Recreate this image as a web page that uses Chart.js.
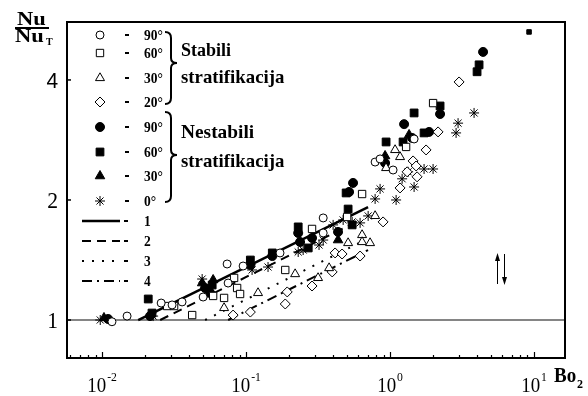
<!DOCTYPE html>
<html>
<head>
<meta charset="utf-8">
<script src="https://cdn.jsdelivr.net/npm/chart.js@4.4.1/dist/chart.umd.min.js"></script>
<style>
  body { margin: 0; background: #fff; }
  #wrap { width: 588px; height: 396px; }
</style>
</head>
<body>
<div id="wrap"><canvas id="chart"></canvas></div>
<script>
// Bo2 vs Nu/NuT ([Bo2, Nu/NuT])
// stable stratification (open markers)
const st90 = [[0.0117,0.99],[0.0149,1.023],[0.0257,1.103],[0.0306,1.091],[0.0359,1.11],[0.0503,1.142],[0.0738,1.382],[0.075,1.238],[0.0953,1.366],[0.172,1.473],[0.343,1.803],[0.343,1.653],[0.787,2.49],[0.852,2.535],[1.049,2.378],[1.468,2.845]];
const st60 = [[0.0283,1.084],[0.0316,1.084],[0.0422,1.029],[0.059,1.149],[0.0703,1.136],[0.0825,1.275],[0.0866,1.203],[0.0908,1.162],[0.187,1.335],[0.287,1.692],[0.503,1.813],[0.639,2.07],[1.292,2.717],[1.989,3.5]];
const st30 = [[0.0703,1.072],[0.121,1.169],[0.219,1.304],[0.316,1.275],[0.377,1.35],[0.511,1.56],[0.639,1.634],[0.639,1.569],[0.726,1.56],[0.787,1.824],[0.938,2.406],[1.083,2.67],[1.173,2.564]];
const st20 = [[0.0812,1.029],[0.107,1.047],[0.187,1.097],[0.193,1.176],[0.287,1.217],[0.396,1.32],[0.415,1.473],[0.464,1.464],[0.619,1.447],[0.894,1.762],[1.173,2.144],[1.313,2.353],[1.444,2.506],[1.516,2.434],[1.54,2.286],[1.778,2.67],[2.154,2.963],[3.014,3.954]];
// unstable stratification (filled markers)
const un90 = [[0.011,1.006],[0.0215,1.023],[0.0519,1.203],[0.0562,1.169],[0.107,1.374],[0.152,1.447],[0.23,1.653],[0.237,1.569],[0.287,1.606],[0.435,1.663],[0.519,2.095],[0.553,2.207],[0.923,2.476],[1.251,3.099],[1.422,2.862],[1.866,2.963],[2.224,3.286],[4.424,4.703]];
const un60 = [[0.0209,1.129],[0.0222,1.041],[0.0581,1.224],[0.107,1.414],[0.152,1.473],[0.23,1.712],[0.27,1.516],[0.495,2.083],[0.511,1.898],[0.545,1.732],[0.938,2.796],[1.231,2.796],[1.468,3.306],[1.722,2.946],[2.224,3.442],[4.019,4.194],[4.15,4.365],[9.23,5.278]];
const un30 = [[0.0103,1.012],[0.0495,1.238],[0.059,1.26],[0.0562,1.189],[0.107,1.398],[0.435,1.587],[0.923,2.579],[1.355,2.912]];
const un0 = [[0.0097,1.0],[0.0226,1.023],[0.0495,1.267],[0.11,1.335],[0.142,1.358],[0.23,1.481],[0.249,1.498],[0.321,1.542],[0.343,1.587],[0.402,1.732],[0.472,1.782],[0.545,1.762],[0.619,1.752],[0.704,1.824],[0.787,2.012],[0.852,2.132],[1.101,2.0],[1.212,2.26],[1.334,2.353],[1.468,2.156],[1.722,2.392],[1.989,2.392],[2.873,2.946],[2.966,3.117],[3.831,3.306]];
// correlation lines 1-4 (end points)
const fit1 = [[0.0178,1],[0.703,1.92]];
const fit2 = [[0.0253,1],[0.571,1.756]];
const fit3 = [[0.0519,1],[0.670,1.587]];
const fit4 = [[0.075,1],[0.703,1.498]];

const xExps = [-2, -1, 0, 1];
const yTicks = [1, 2, 4];
const stableLabels = ['90°', '60°', '30°', '20°'];
const unstableLabels = ['90°', '60°', '30°', '0°'];
const fitLabels = ['1', '2', '3', '4'];

const SERIF = '"Liberation Serif", "DejaVu Serif", serif';
const SANS = '"Liberation Sans", Arial, sans-serif';

const pts = a => a.map(p => ({x: p[0], y: p[1]}));

// marker looks, same order as the legend rows
const markers = [
  {data: st90, style: 'circle', r: 4, fill: '#fff'},
  {data: st60, style: 'rect', r: 5.2, fill: '#fff'},
  {data: st30, style: 'triangle', r: 5.2, fill: '#fff'},
  {data: st20, style: 'rectRot', r: 5, fill: '#fff'},
  {data: un90, style: 'circle', r: 4.5, fill: '#000'},
  {data: un60, style: 'rect', r: 5.5, fill: '#000'},
  {data: un30, style: 'triangle', r: 5.5, fill: '#000'},
  {data: un0, style: 'star', r: 5, fill: '#000'}
];
const fits = [
  {data: fit1, dash: [], w: 2.5},
  {data: fit2, dash: [9, 6], w: 2},
  {data: fit3, dash: [2, 8], w: 2},
  {data: fit4, dash: [10, 5, 2, 5], w: 2}
];

const datasets = [];
markers.forEach((m, i) => {
  datasets.push({
    type: 'scatter',
    data: pts(m.data),
    pointStyle: m.style,
    pointRadius: (i === 5) ? (c => c.dataIndex === un60.length - 1 ? 3.2 : m.r) : m.r,
    pointBackgroundColor: m.fill,
    pointBorderColor: '#000',
    pointBorderWidth: 1,
    order: 0
  });
});
fits.forEach(f => {
  datasets.push({
    type: 'line',
    data: pts(f.data),
    borderColor: '#000',
    borderWidth: f.w,
    borderDash: f.dash,
    pointRadius: 0,
    fill: false,
    order: 5
  });
});

function txt(ctx, s, x, y, font, align, sx) {
  ctx.save();
  ctx.font = font;
  ctx.textAlign = align || 'left';
  ctx.textBaseline = 'alphabetic';
  ctx.translate(x, y);
  ctx.scale(sx || 1, 1);
  ctx.fillText(s, 0, 0);
  ctx.restore();
}

function marker(ctx, m, x, y) {
  ctx.save();
  ctx.fillStyle = m.fill;
  ctx.strokeStyle = '#000';
  ctx.lineWidth = 1;
  Chart.helpers.drawPoint(ctx, {pointStyle: m.style, radius: m.r, rotation: 0, borderWidth: 1}, x, y);
  ctx.restore();
}

function brace(ctx, x, y0, y1, tip) {
  ctx.beginPath();
  ctx.moveTo(x - 6, y0);
  ctx.quadraticCurveTo(x, y0, x, y0 + 6);
  ctx.lineTo(x, tip - 5);
  ctx.quadraticCurveTo(x, tip, x + 6, tip);
  ctx.quadraticCurveTo(x, tip, x, tip + 5);
  ctx.lineTo(x, y1 - 6);
  ctx.quadraticCurveTo(x, y1, x - 6, y1);
  ctx.stroke();
}

const deco = {
  id: 'deco',
  beforeDatasetsDraw(chart) {
    const {ctx, chartArea: a, scales: {y}} = chart;
    const py = y.getPixelForValue(1);
    ctx.save();
    ctx.strokeStyle = '#858585';
    ctx.lineWidth = 2;
    ctx.beginPath();
    ctx.moveTo(a.left, py);
    ctx.lineTo(a.right, py);
    ctx.stroke();
    ctx.restore();
  },
  afterDraw(chart) {
    const {ctx, chartArea: a, scales: {x, y}} = chart;
    ctx.save();
    ctx.fillStyle = '#000';
    ctx.strokeStyle = '#000';

    // frame
    ctx.lineWidth = 2;
    ctx.strokeRect(a.left, a.top, a.right - a.left, a.bottom - a.top);

    // x ticks (inward) and labels
    ctx.lineWidth = 1.2;
    for (let d = -3; d <= 1; d++) {
      for (let m = 1; m <= 9; m++) {
        const v = m * Math.pow(10, d);
        if (v < x.min || v > x.max) continue;
        const px = Math.round(x.getPixelForValue(v)) + 0.5;
        ctx.beginPath();
        ctx.moveTo(px, a.bottom);
        ctx.lineTo(px, a.bottom - (m === 1 ? 6 : 3));
        ctx.stroke();
      }
    }
    xExps.forEach(e => {
      const px = x.getPixelForValue(Math.pow(10, e));
      ctx.font = '21px ' + SERIF;
      const w1 = ctx.measureText('10').width * 0.9;
      ctx.font = '13px ' + SERIF;
      const w2 = ctx.measureText(String(e)).width * 0.9;
      const x0 = px - (w1 + w2 + 1) / 2;
      txt(ctx, '10', x0, 392, '21px ' + SERIF, 'left', 0.9);
      txt(ctx, String(e), x0 + w1 + 1, 381, '13px ' + SERIF, 'left', 0.9);
    });
    txt(ctx, 'Bo', 554, 382, 'bold 20px ' + SERIF, 'left', 0.95);
    txt(ctx, '2', 577, 388, 'bold 12px ' + SERIF, 'left');

    // y ticks and labels
    ctx.lineWidth = 1.5;
    yTicks.forEach(v => {
      const py = y.getPixelForValue(v);
      ctx.beginPath();
      ctx.moveTo(a.left, py);
      ctx.lineTo(a.left + 4, py);
      ctx.stroke();
      if (v === 4) txt(ctx, String(v), 58, py + 8, '22px ' + SANS, 'right', 0.95);
      else txt(ctx, String(v), 58, py + 8, '24px ' + SERIF, 'right', 0.9);
    });
    // Nu / Nu_T
    txt(ctx, 'Nu', 17, 25, 'bold 18px ' + SERIF, 'left', 1.25);
    ctx.fillRect(15, 27, 34, 2);
    txt(ctx, 'Nu', 15, 42, 'bold 18px ' + SERIF, 'left', 1.25);
    txt(ctx, 'T', 46, 45, 'bold 10px ' + SERIF, 'left', 1);

    // legend: markers
    const rowY = [35, 53, 78, 102, 127, 152, 176, 201];
    const labels = stableLabels.concat(unstableLabels);
    markers.forEach((m, i) => {
      marker(ctx, m, 100, rowY[i]);
      ctx.fillRect(125, rowY[i] - 1, 4, 2);
      txt(ctx, labels[i], 144, rowY[i] + 5, 'bold 15px ' + SERIF, 'left', 0.9);
    });
    // legend: fit lines
    const lineY = [221, 241, 261, 281];
    fits.forEach((f, i) => {
      ctx.save();
      ctx.lineWidth = f.w;
      ctx.setLineDash(f.dash);
      ctx.beginPath();
      ctx.moveTo(82, lineY[i]);
      ctx.lineTo(120, lineY[i]);
      ctx.stroke();
      ctx.restore();
      ctx.fillRect(124, lineY[i] - 1, 4, 2);
      txt(ctx, fitLabels[i], 144, lineY[i] + 5, 'bold 15px ' + SERIF, 'left', 0.9);
    });

    // braces and group names
    ctx.lineWidth = 2;
    brace(ctx, 171, 32, 104, 63);
    brace(ctx, 171, 112, 202, 155);
    txt(ctx, 'Stabili', 181, 56, 'bold 18px ' + SERIF, 'left', 1);
    txt(ctx, 'stratifikacija', 181, 83, 'bold 19px ' + SERIF, 'left', 0.99);
    txt(ctx, 'Nestabili', 181, 138, 'bold 19px ' + SERIF, 'left', 1.02);
    txt(ctx, 'stratifikacija', 181, 167, 'bold 19px ' + SERIF, 'left', 0.99);

    // up / down arrows
    ctx.lineWidth = 1;
    ctx.beginPath();
    ctx.moveTo(497.5, 284); ctx.lineTo(497.5, 258);
    ctx.moveTo(504.5, 254); ctx.lineTo(504.5, 280);
    ctx.stroke();
    ctx.beginPath();
    ctx.moveTo(497.5, 253); ctx.lineTo(495, 261); ctx.lineTo(500, 261); ctx.closePath();
    ctx.moveTo(504.5, 285); ctx.lineTo(502, 277); ctx.lineTo(507, 277); ctx.closePath();
    ctx.fill();
    ctx.restore();
  }
};

new Chart(document.getElementById('chart'), {
  type: 'scatter',
  data: {datasets: datasets},
  options: {
    responsive: true,
    maintainAspectRatio: false,
    animation: false,
    events: [],
    layout: {padding: {left: 67, right: 23, top: 22, bottom: 38}},
    plugins: {legend: {display: false}, tooltip: {enabled: false}},
    scales: {
      x: {type: 'logarithmic', min: 0.0057, max: 16.4, display: false},
      y: {type: 'logarithmic', min: 0.803, max: 5.59, display: false}
    }
  },
  plugins: [deco]
});
</script>
</body>
</html>
